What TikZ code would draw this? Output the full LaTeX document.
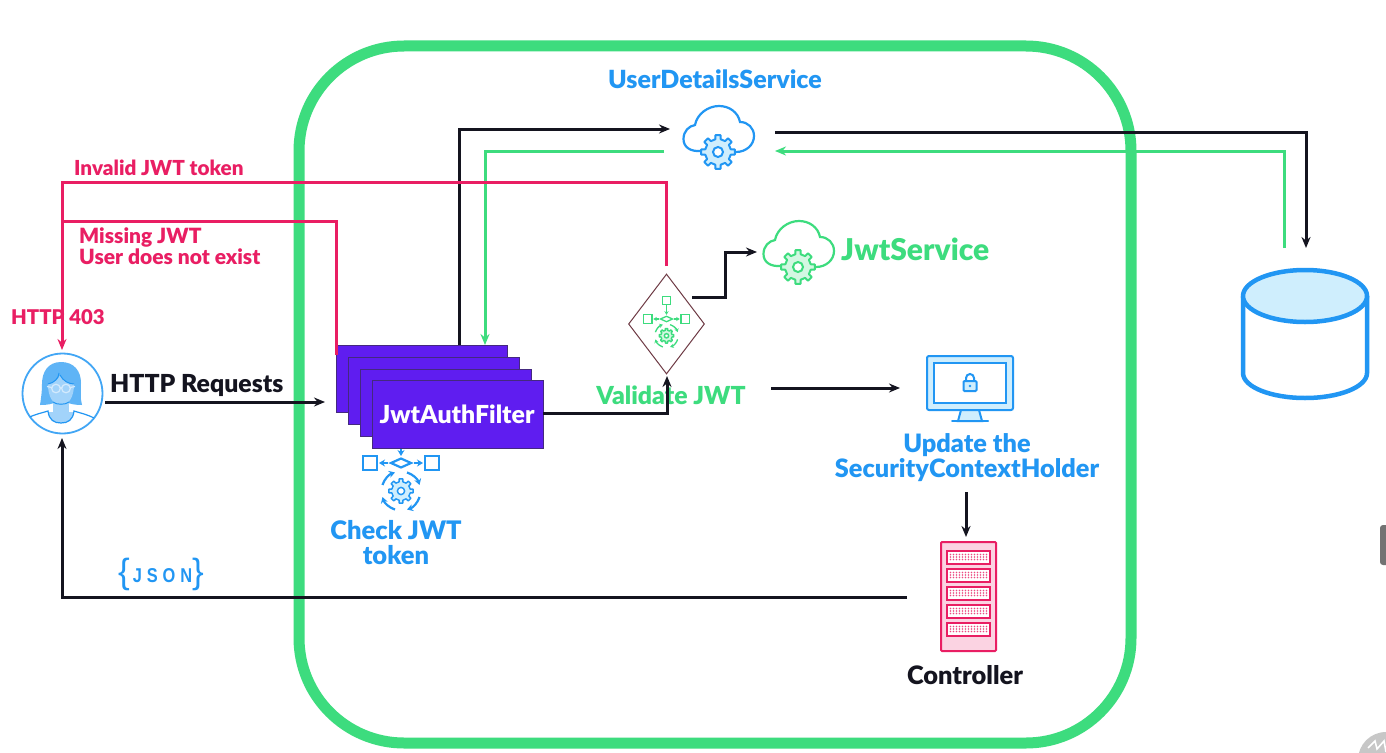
\documentclass[tikz,border=0pt]{standalone}
\usepackage{fontspec}
\setmainfont{Lato}[BoldFont={Lato Black}]
\usetikzlibrary{arrows.meta,calc,shapes.geometric}
\definecolor{cblack}{HTML}{14141F}
\definecolor{cpink}{HTML}{E91E63}
\definecolor{cgreen}{HTML}{3DDC7E}
\definecolor{cblue}{HTML}{2196F3}
\definecolor{cbluel}{HTML}{CFEEFD}
\definecolor{cgreenl}{HTML}{D3F7E2}
\definecolor{cpinkl}{HTML}{FBD3E2}
\definecolor{cviolet}{HTML}{5F1DF0}
\definecolor{cvioletd}{HTML}{44297F}
\definecolor{cbrown}{HTML}{6E3A44}
\newcommand{\gearicon}[5]{% x y scale color fill
\begin{scope}[shift={(#1,#2)},scale=#3]
\draw[#4,line width=#3*2pt,fill=#5,line join=round]
 (-12:13) \foreach \a in {0,45,...,315} {
   -- (\a-12:13) -- (\a-9:17) -- (\a+9:17) -- (\a+12:13)
 } -- cycle;
\draw[#4,line width=#3*2pt,fill=white] (0,0) circle (5);
\end{scope}}
\newcommand{\cloudicon}[4]{% gear-centre x y colour fill
\begin{scope}[shift={(#1,#2)}]
\draw[#3,line width=2.2pt,line cap=round] (-16,-1) .. controls (-28,0) and (-34.5,-5) .. (-34.5,-13)
 .. controls (-34.5,-21) and (-29,-26) .. (-23,-27)
 .. controls (-21,-38) and (-10,-46) .. (1,-46)
 .. controls (11,-46) and (20,-40) .. (22,-30)
 .. controls (30,-30) and (36,-24) .. (36,-16)
 .. controls (36,-7) and (28,0) .. (18,0);
\end{scope}
\gearicon{#1}{#2}{1}{#3}{#4}}
\newcommand{\flowicon}[5]{% x y scale colour fill ; origin at the little diamond
\begin{scope}[shift={(#1,#2)},scale=#3,line width=#3*2.2pt,#4]
\draw (-38,-7) rectangle (-24,7);
\draw (24,-7) rectangle (38,7);
\draw (-7,-38) rectangle (7,-24);
\draw (-10,0) -- (0,-4.5) -- (10,0) -- (0,4.5) -- cycle;
\draw[-{Stealth[length=#3*6pt,width=#3*7pt]}] (-13,0) -- (-22,0);
\draw[-{Stealth[length=#3*6pt,width=#3*7pt]}] (13,0) -- (22,0);
\draw[-{Stealth[length=#3*6pt,width=#3*7pt]}] (0,-23) -- (0,-7);
\foreach \st in {-72,18,108,198}
  \draw[-{Stealth[length=#3*6pt,width=#3*7pt]}] (0,28)++(\st:19.5) arc (\st:\st+54:19.5);
\end{scope}
\begin{scope}[shift={(#1,#2)},scale=#3]
\gearicon{0}{28}{0.72}{#4}{#5}
\end{scope}}
\tikzset{
 tip/.style={-{Stealth[length=11pt,width=9pt]}},
 conn/.style={line width=3pt,cblack,line join=miter},
 greenconn/.style={line width=3pt,cgreen},
 pinkconn/.style={line width=3pt,cpink},
 lab/.style={font=\bfseries\fontsize{#1}{#1}\selectfont,inner sep=0pt,align=center},
 lab/.default=23pt,
 filterbox/.style={fill=cviolet,draw=cvioletd,line width=1pt,anchor=north west,inner sep=0pt,minimum width=171pt,minimum height=67pt},
}
\begin{document}
\begin{tikzpicture}[x=1pt,y=-1pt]
\useasboundingbox (0,0) rectangle (1386,752);
\fill[white] (0,0) rectangle (1386,752);
% frame
\node[draw=cgreen,line width=11pt,rounded corners=105pt,minimum width=832pt,minimum height=697pt,inner sep=0pt] (frame) at (715,394.5) {};
% anchors
\coordinate (udsIn) at (670,129);
\coordinate (udsOutG) at (664,151);
\coordinate (udsOut) at (775,132);
\coordinate (udsInG) at (775,151);
\coordinate (dbIn) at (1306,248);
\coordinate (dbOutG) at (1284,248);
\coordinate (f1a) at (459,345);
\coordinate (f1b) at (485,345);
\coordinate (f1p) at (336,355);
\coordinate (userTop) at (62,350);
\coordinate (userBot) at (62,438);
\coordinate (userR) at (105,402);
\coordinate (filtIn) at (325,402);
\coordinate (dTopOut) at (666,266);
\coordinate (dRightOut) at (692,297);
\coordinate (jsIn) at (757,252);
\coordinate (vOut) at (771,388);
\coordinate (monIn) at (900,388);
\coordinate (updOut) at (966,492);
\coordinate (ctlIn) at (966,537);
\coordinate (ctlOut) at (907,597);
\coordinate (dBot) at (667,376);
\coordinate (fOut) at (543,413);
% flow icon under filter
\flowicon{401}{463}{1}{cblue}{cbluel}
% filter stack
\node[filterbox] (f1) at (336,345) {};
\node[filterbox] (f2) at (348,357) {};
\node[filterbox] (f3) at (360,369) {};
\node[filterbox,minimum height=68pt] (f4) at (372,380) {};
\node[lab=24.8pt,text=white] (filterLabel) at (457,414) {JwtAuthFilter};
% labels
\node[lab=25pt,text=cblue] (udsLabel) at (715,79) {UserDetailsService};
\node[lab=20.7pt,text=cpink,anchor=west] (invalid) at (74,168) {Invalid JWT token};
\node[lab=21pt,text=cpink,anchor=north west,align=left] (missing) at (79,228) {Missing JWT\\[-0.5pt]User does not exist};
\node[lab=20.3pt,text=cpink,anchor=west] (h403) at (11,317) {HTTP 403};
\node[lab=24.8pt,text=cblack,anchor=west] (hreq) at (110,386) {HTTP Requests};
\node[lab=25.5pt,text=cblue,align=center] (check) at (396,543) {Check JWT\\[-0.5pt]token};
\node[lab=24.8pt,text=cgreen] (validate) at (671,395) {Validate JWT};
\node[lab=30pt,text=cgreen,anchor=west] (jwtsvc) at (841,249) {JwtService};
\node[lab=25.3pt,text=cblue,align=center] (update) at (967,457.5) {Update the\\[-1pt]SecurityContextHolder};
\node[lab=25.4pt,text=cblack] (controller) at (965,675) {Controller};
\node[text=cblue,inner sep=0pt] (json) at (161,574) {\fontspec{Liberation Sans}\fontsize{35}{35}\selectfont\raisebox{-1pt}{\{}\hspace{3pt}\scalebox{0.82}[1]{\fontspec{Liberation Sans Bold}\fontsize{20}{20}\selectfont\addfontfeature{LetterSpace=30}JSON}\hspace{0pt}\raisebox{-1pt}{\}}};
% clouds
\cloudicon{718}{152}{cblue}{cbluel}
\node[inner sep=0pt,minimum size=2pt] (cloudA) at (718,130) {};
\cloudicon{798}{267}{cgreen}{cgreenl}
\node[inner sep=0pt,minimum size=2pt] (cloudB) at (798,245) {};
% diamond
\node[diamond,draw=cbrown,line width=1pt,inner sep=0pt,minimum width=76pt,minimum height=100pt,aspect=0.76] (dia) at (666.5,324) {};
\flowicon{666.5}{319}{0.6}{cgreen}{cgreenl}
% connectors
\draw[conn,tip] (f1a) |- (udsIn);
\draw[greenconn,tip] (udsOutG) -| (f1b);
\draw[conn,tip] (udsOut) -| (dbIn);
\draw[greenconn,tip] (dbOutG) |- (udsInG);
\coordinate (pinkCorner) at (62,182);
\coordinate (pinkJoin) at (62,221);
\draw[pinkconn,tip] (dTopOut) |- (pinkCorner) -- (userTop);
\draw[pinkconn] (f1p) |- (pinkJoin);
\draw[conn,tip] (userR) -- (filtIn);
\draw[conn,tip] (fOut) -| (dBot);
\coordinate (mid1) at (725,297);
\coordinate (mid2) at (725,252);
\draw[conn,tip] (dRightOut) -- (mid1) -- (mid2) -- (jsIn);
\draw[conn,tip] (vOut) -- (monIn);
\draw[conn,tip] (updOut) -- (ctlIn);
\coordinate (jsonCorner) at (62,597);
\draw[conn,tip] (ctlOut) -- (jsonCorner) -- (userBot);
% person
\node[circle,draw=cblue!85,line width=1.8pt,minimum size=80pt,inner sep=0pt,fill=white] (user) at (62.5,393.5) {};
\begin{scope}
\clip (62.5,393.5) circle (40);
\begin{scope}[xshift=-2pt]
\fill[cblue!72] (63,362) .. controls (50,362) and (44,372) .. (44,384) .. controls (44,392) and (43,399) .. (42,405)
  .. controls (50,405) and (54,404) .. (58,402) -- (68,402) .. controls (72,404) and (77,405) .. (84,405)
  .. controls (82,398) and (83,390) .. (83,383) .. controls (83,371) and (76,362) .. (63,362) -- cycle;
\fill[cblue!42] (50,384) .. controls (56,383) and (60,380) .. (62,375) .. controls (64,381) and (71,384) .. (76,384)
  .. controls (76,397) and (71,405) .. (63,405) .. controls (55,405) and (50,397) .. (50,384) -- cycle;
\fill[cblue!42] (50,412) -- (76,412) .. controls (75,420) and (70,423) .. (63,423) .. controls (56,423) and (51,420) .. (50,412) -- cycle;
\fill[cblue!42] (55,402) rectangle (71,414);
\draw[cblue,line width=1pt] (61,373) .. controls (61,378) and (56,383) .. (50,384);
\draw[cblue,line width=1pt] (62,375) .. controls (65,381) and (71,384) .. (76,384);
\draw[cblue,line width=1pt] (55,402) .. controls (58,405) and (68,405) .. (71,402);
\draw[cblue,line width=1.2pt] (30,418) .. controls (37,414) and (44,413) .. (50,411) .. controls (51,420) and (56,423) .. (63,423) .. controls (70,423) and (75,420) .. (76,411) .. controls (82,413) and (88,414) .. (96,418);
\draw[cblue!20,line width=1.2pt] (58,388.5) circle (4.3) (68,388.5) circle (4.3) (62.3,387.5) -- (63.7,387.5) (53.7,387.5) -- (49,386.5) (72.3,387.5) -- (77,386.5);
\end{scope}
\end{scope}
% database
\draw[cblue,line width=4.5pt,fill=white] (1243,296) -- (1243,373) .. controls (1243,387) and (1271,398) .. (1305,398) .. controls (1339,398) and (1367,387) .. (1367,373) -- (1367,296);
\draw[cblue,line width=4.5pt,fill=cbluel] (1305,296) ellipse (62 and 26);
\node[inner sep=0pt,minimum size=2pt] (db) at (1305,340) {};
% monitor
\draw[cblue,line width=2pt,fill=cbluel,rounded corners=2pt] (927,356) rectangle (1013,410);
\draw[cblue,line width=2pt,fill=white] (934,363) rectangle (1006,403);
\draw[cblue,line width=2pt,fill=cbluel] (961,410) -- (979,410) -- (982,421) -- (958,421) -- cycle;
\draw[cblue,line width=2pt,line cap=round] (952,421) -- (988,421);
\draw[cblue,line width=2pt,fill=cbluel,rounded corners=1pt] (963.5,381) rectangle (976.5,391);
\draw[cblue,line width=2pt] (966,381) -- (966,378) arc (180:360:4) -- (974,381);
\fill[cblue] (970,386) circle (1.3);
\node[inner sep=0pt,minimum size=2pt] (monitor) at (970,384) {};
% server
\node[draw=cpink,fill=cpinkl,line width=2pt,rounded corners=1pt,minimum width=55pt,minimum height=109pt,inner sep=0pt] (server) at (968.5,596.5) {};
\foreach \yy in {557,575,593,611,629} {
  \draw[cpink,line width=2pt,fill=white] (947,\yy-6.5) rectangle (990,\yy+6.5);
  \foreach \xx in {950.5,953.5,...,987} {
    \fill[cpink!80] (\xx,\yy-2.5) circle (0.8);
    \fill[cpink!80] (\xx,\yy) circle (0.8);
    \fill[cpink!80] (\xx,\yy+2.5) circle (0.8);
  }
}
% screen furniture at the edge
\fill[black!55,rounded corners=3pt] (1380,525) rectangle (1392,565);
\fill[black!22] (1386,760) circle (28);
\draw[white,line width=1.6pt] (1368,748) -- (1375,741) -- (1377,749) -- (1384,741) -- (1386,752);
\end{tikzpicture}
\end{document}
